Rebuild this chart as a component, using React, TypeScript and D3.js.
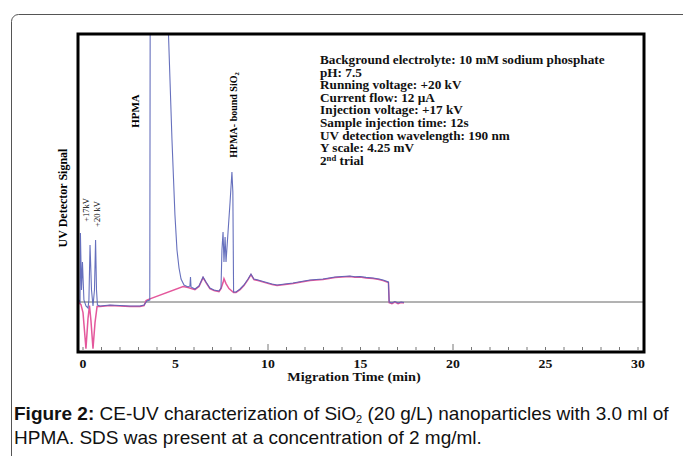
import React from "react";
import * as d3 from "d3";

// time (min), signal (arbitrary units, baseline = 0)
const blueLead: [number, number][] = [
  [-0.22, 2], [-0.16, 0], [-0.14, 69], [-0.08, 12], [-0.03, 40], [0.05, 2], [0.16, -4],
  [0.27, -6], [0.32, 2], [0.38, 57], [0.46, 12], [0.54, -4], [0.62, 12], [0.68, 62],
  [0.73, 12], [0.78, -3], [0.92, -4], [1.46, -3], [2.0, -3.5], [2.54, -4], [3.08, -4],
  [3.3, -3], [3.46, 1], [3.61, 2], [3.63, 400], [4.56, 400], [4.62, 268], [4.81, 162],
  [4.97, 87], [5.08, 52], [5.19, 34], [5.3, 23], [5.46, 17], [5.68, 15], [5.78, 16],
  [5.81, 25], [5.84, 15], [6.05, 13], [6.27, 16], [6.49, 25], [6.65, 20], [6.86, 14],
  [7.08, 12], [7.35, 11], [7.46, 14], [7.51, 52], [7.57, 70], [7.62, 40], [7.68, 65],
  [7.73, 40], [7.84, 70], [7.95, 100], [8.05, 130], [8.1, 110], [8.14, 10],
];
const pinkLead: [number, number][] = [
  [-0.22, 0], [-0.11, -2], [0.0, -10], [0.16, -46], [0.27, -16], [0.35, -3], [0.43, -18],
  [0.54, -46], [0.65, -20], [0.76, -4], [0.92, -4], [1.46, -3], [2.0, -3.5], [2.54, -4],
  [3.08, -4], [3.3, -3], [3.41, 2], [3.51, 3], [5.41, 16], [5.68, 15], [6.05, 13],
  [6.27, 16], [6.49, 25], [6.65, 20], [6.86, 14], [7.08, 12], [7.35, 11], [7.46, 14],
  [7.57, 20], [7.62, 24], [7.73, 19], [7.89, 14], [8.14, 10],
];
const sharedTail: [number, number][] = [
  [8.27, 10], [8.49, 13], [8.7, 17], [8.92, 23], [9.08, 28], [9.24, 23], [9.46, 22],
  [9.84, 20], [10.22, 18], [10.49, 17], [10.92, 18], [11.35, 19], [11.8, 20.5], [12.27, 22],
  [12.6, 22.5], [12.97, 23], [13.3, 24], [13.62, 25], [14.0, 25.5], [14.43, 26], [14.7, 25.3],
  [14.97, 25.5], [15.3, 24.6], [15.68, 24], [16.0, 23], [16.22, 22], [16.51, 20], [16.55, 0],
  [16.7, -1], [16.86, 0.5], [17.03, -1], [17.19, 0], [17.35, -0.5],
];
const blueSeries = [...blueLead, ...sharedTail];
const pinkSeries = [...pinkLead, ...sharedTail];

const xTicks = [0, 5, 10, 15, 20, 25, 30];
const minorTicks = d3.range(0, 31, 1);

const infoLines = [
  "Background electrolyte: 10 mM sodium phosphate",
  "pH: 7.5",
  "Running voltage: +20 kV",
  "Current flow: 12 \u00b5A",
  "Injection voltage: +17 kV",
  "Sample injection time: 12s",
  "UV detection wavelength: 190 nm",
  "Y scale: 4.25 mV",
];

const serif = "'Liberation Serif', 'Times New Roman', serif";
const sans = "'Liberation Sans', Arial, sans-serif";

function ST(props: {
  x: number;
  y: number;
  sx: number;
  size: number;
  anchor?: string;
  bold?: boolean;
  children: React.ReactNode;
}) {
  return (
    <text
      transform={`translate(${props.x},${props.y}) scale(${props.sx},1)`}
      textAnchor={props.anchor || "start"}
      fontFamily={serif}
      fontWeight={props.bold === false ? "normal" : "bold"}
      fontSize={props.size}
      fill="#111"
    >
      {props.children}
    </text>
  );
}

export default function App() {
  const left = 78, right = 644, top = 34, bottom = 352;
  const x = d3.scaleLinear().domain([0, 30]).range([83, 638]);
  const y = d3.scaleLinear().domain([-50, 268]).range([bottom, top]).clamp(true);
  const line = d3
    .line<[number, number]>()
    .x((d) => x(d[0]))
    .y((d) => y(d[1]));
  const lineGap = 12.6;

  return (
    <svg
      width={683}
      height={456}
      style={{ position: "absolute", left: 0, top: 0, background: "#fff" }}
    >
      <rect x={11.5} y={14.5} width={700} height={500} rx={7} fill="#fff" stroke="#555" strokeWidth={1} />
      <defs>
        <clipPath id="plotclip">
          <rect x={left} y={top} width={right - left} height={bottom - top} />
        </clipPath>
      </defs>
      <line x1={left} x2={right} y1={y(0)} y2={y(0)} stroke="#666" strokeWidth={1} />
      {minorTicks.map((t) => (
        <line
          key={t}
          x1={x(t)}
          x2={x(t)}
          y1={bottom - 2}
          y2={bottom - 2 - (t % 10 === 0 && t > 0 && t < 30 ? 6 : 3)}
          stroke="#777"
          strokeWidth={1}
        />
      ))}
      <g clipPath="url(#plotclip)">
        <path d={line(pinkSeries) || ""} fill="none" stroke="#e4589c" strokeWidth={1.5} transform="translate(0,0.6)" />
        <path d={line(blueSeries) || ""} fill="none" stroke="#5560b6" strokeWidth={1.1} strokeOpacity={0.9} />
      </g>
      <rect x={left} y={top} width={right - left} height={bottom - top} fill="none" stroke="#000" strokeWidth={3} />
      {xTicks.map((t) => (
        <ST key={t} x={x(t)} y={368} sx={1.15} size={12} anchor="middle">
          {t}
        </ST>
      ))}
      <ST x={354} y={381} sx={1.19} size={12} anchor="middle">
        Migration Time  (min)
      </ST>
      <text transform="translate(67,198) rotate(-90)" textAnchor="middle" fontFamily={serif} fontWeight="bold" fontSize={12}>
        UV Detector Signal
      </text>
      <text transform="translate(89,210) rotate(-90)" textAnchor="middle" fontFamily={serif} fontSize={8.5}>
        +17kV
      </text>
      <text transform="translate(100,214) rotate(-90)" textAnchor="middle" fontFamily={serif} fontSize={8.5}>
        +20 kV
      </text>
      <text transform="translate(139,111) rotate(-90)" textAnchor="middle" fontFamily={serif} fontWeight="bold" fontSize={11}>
        HPMA
      </text>
      <text transform="translate(237,115) rotate(-90)" textAnchor="middle" fontFamily={serif} fontWeight="bold" fontSize={10}>
        HPMA- bound SiO<tspan fontSize={6.5} dy={2}>2</tspan>
      </text>
      {infoLines.map((s, i) => (
        <ST key={i} x={320} y={64 + i * lineGap} sx={1.15} size={11.5}>
          {s}
        </ST>
      ))}
      <ST x={320} y={64 + 8 * lineGap} sx={1.15} size={11.5}>
        2<tspan fontSize={7.5} dy={-4}>nd</tspan>
        <tspan dy={4}>  trial</tspan>
      </ST>
      <text x={14} y={420} fontFamily={sans} fontSize={19} fill="#111">
        <tspan fontWeight="bold">Figure 2:</tspan> CE-UV characterization of SiO<tspan fontSize={11} dy={3}>2</tspan>
        <tspan dy={-3}> (20 g/L) nanoparticles with 3.0 ml of</tspan>
      </text>
      <text x={14} y={444} fontFamily={sans} fontSize={19} fill="#111">
        HPMA. SDS was present at a concentration of 2 mg/ml.
      </text>
    </svg>
  );
}
